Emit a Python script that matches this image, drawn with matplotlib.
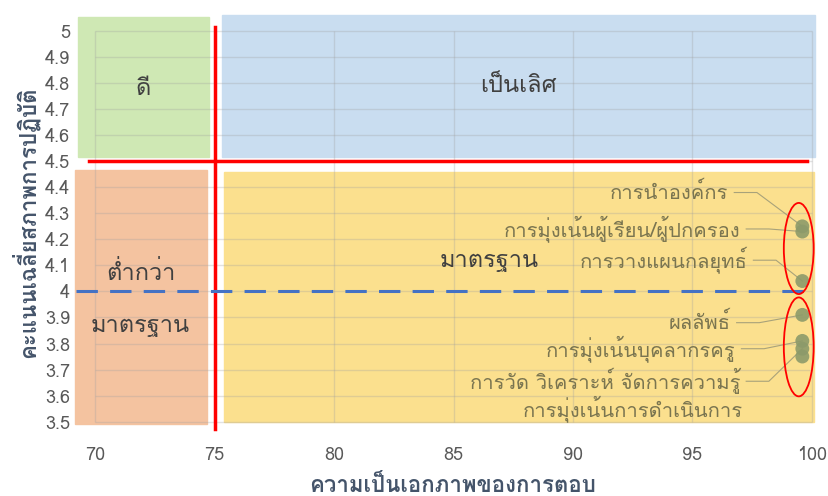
import matplotlib
matplotlib.use("Agg")
import matplotlib.pyplot as plt
from matplotlib import font_manager
from matplotlib.ft2font import FT2Font
from matplotlib.patches import Rectangle, Ellipse

# find an installed font that has Thai glyphs
thai_fonts = []
for f in font_manager.fontManager.ttflist:
    try:
        if FT2Font(f.fname).get_char_index(0x0E01) and f.name not in thai_fonts:
            thai_fonts.append(f.name)
    except Exception:
        pass
plt.rcParams['font.family'] = thai_fonts + ['DejaVu Sans']

# data
x_vals = [99.6, 99.6, 99.6, 99.6, 99.6, 99.6, 99.6]
y_vals = [4.25, 4.23, 4.04, 3.91, 3.81, 3.78, 3.75]
labels = ['การนำองค์กร', 'การมุ่งเน้นผู้เรียน/ผู้ปกครอง', 'การวางแผนกลยุทธ์', 'ผลลัพธ์',
          'การมุ่งเน้นบุคลากรครู', 'การวัด วิเคราะห์ จัดการความรู้', 'การมุ่งเน้นการดำเนินการ']
label_x = [96.5, 97.0, 97.3, 96.6, 96.8, 97.0, 97.1]
label_y = [4.38, 4.24, 4.12, 3.88, 3.78, 3.655, 3.55]
x_ticks = [70, 75, 80, 85, 90, 95, 100]
y_ticks = [3.5, 3.6, 3.7, 3.8, 3.9, 4, 4.1, 4.2, 4.3, 4.4, 4.5, 4.6, 4.7, 4.8, 4.9, 5]

fig = plt.figure(figsize=(8.29, 4.96), dpi=100)
ax = fig.add_axes([0.086, 0.129, 0.902, 0.845])
ax.set_xlim(69.0, 100.3)
ax.set_ylim(3.46, 5.07)

# quadrant boxes
ax.add_patch(Rectangle((69.3, 4.515), 5.47, 0.54, color='#cfe8b4', zorder=1))
ax.add_patch(Rectangle((75.3, 4.515), 24.85, 0.545, color='#c9ddf0', zorder=1))
ax.add_patch(Rectangle((69.15, 3.49), 5.55, 0.975, color='#f4c3a0', zorder=1))
ax.add_patch(Rectangle((75.4, 3.497), 24.7, 0.96, color='#fbe08e', zorder=1))

# grid only over the data range
ax.hlines(y_ticks, 70, 100, color='#a0a0a0', alpha=0.3, lw=1, zorder=2)
ax.vlines(x_ticks, 3.5, 5, color='#a0a0a0', alpha=0.3, lw=1, zorder=2)

# threshold lines
ax.plot([75, 75], [3.47, 5.015], color='#ff0000', lw=2.5, zorder=3)
ax.plot([69.75, 99.8], [4.5, 4.5], color='#ff0000', lw=2.5, zorder=3)
ax.plot([69.2, 100], [4.0, 4.0], color='#4472c4', lw=2.2, ls=(0, (7, 4)), zorder=3)

# leader lines and labels
for lx, ly, px, py, t in zip(label_x, label_y, x_vals, y_vals, labels):
    ax.text(lx, ly, t, ha='right', va='center', fontsize=14.5, color='#7a7550', zorder=5)
    if t != labels[-1]:
        ax.plot([lx + 0.25, lx + 1.2, px], [ly, ly, py], color='#a8a27a', lw=0.8, zorder=4)

ax.scatter(x_vals, y_vals, s=100, color='#8c9a6a', alpha=0.9, zorder=6, edgecolors='none')

ax.add_patch(Ellipse((99.45, 4.165), 1.25, 0.35, fill=False, ec='#ff0000', lw=1.3, zorder=7))
ax.add_patch(Ellipse((99.45, 3.787), 1.25, 0.38, fill=False, ec='#ff0000', lw=1.3, zorder=7))

# quadrant names
ax.text(72.0, 4.78, 'ดี', ha='center', va='center', fontsize=17, color='#404040')
ax.text(87.7, 4.79, 'เป็นเลิศ', ha='center', va='center', fontsize=17, color='#404040')
ax.text(71.9, 4.07, 'ต่ำกว่า', ha='center', va='center', fontsize=17, color='#404040')
ax.text(71.9, 3.87, 'มาตรฐาน', ha='center', va='center', fontsize=17, color='#404040')
ax.text(86.5, 4.12, 'มาตรฐาน', ha='center', va='center', fontsize=17, color='#404040')

ax.set_xticks(x_ticks)
ax.set_xticklabels([str(v) for v in x_ticks])
ax.set_yticks(y_ticks)
ax.set_yticklabels(['%g' % v for v in y_ticks])
ax.tick_params(length=0, labelsize=13, colors='#595959')
ax.tick_params(axis='x', pad=10)
ax.tick_params(axis='y', pad=1)
for s in ax.spines.values():
    s.set_visible(False)

fig.text(0.546, 0.008, 'ความเป็นเอกภาพของการตอบ', ha='center', va='baseline',
         fontsize=16, fontweight='bold', color='#44546a')
ax.set_ylabel('คะแนนเฉลี่ยสภาพการปฏิบัติ', fontsize=16, fontweight='bold', color='#44546a', labelpad=4)

plt.savefig('out.png', dpi=100)
plt.close()
